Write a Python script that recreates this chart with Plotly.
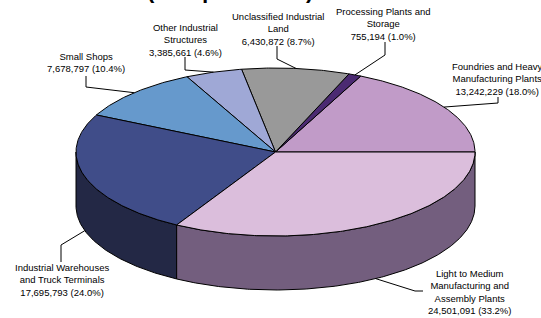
import numpy as np
import plotly.graph_objects as go

# ---------------- data ----------------
categories = [
    "Foundries and Heavy<br>Manufacturing Plants",
    "Processing Plants and<br>Storage",
    "Unclassified Industrial<br>Land",
    "Other Industrial<br>Structures",
    "Small Shops",
    "Industrial Warehouses<br>and Truck Terminals",
    "Light to Medium<br>Manufacturing and<br>Assembly Plants",
]
values = [13242229, 755194, 6430872, 3385661, 7678797, 17695793, 24501091]
title_text = "(In Square Feet)"

# ---------------- styles / layout ----------------
top_colors = ["#C19BC8", "#4B2A72", "#999999", "#9FA8D6", "#6699CC", "#404D89", "#DBBEDC"]
side_colors = ["#7F6785", "#2E1A47", "#666666", "#6A7090", "#446688", "#232845", "#735E7E"]

CX, CY, RX, RY, DEPTH = 275.5, 152.0, 199.5, 84.0, 54.0

# label block centres (x, y) in pixel-like coordinates
label_pos = [(497, 78.5), (383, 23.5), (278, 28.5), (185, 40), (86, 62.5), (62, 280), (469, 291.5)]
# leader: (end x, end y, elbow x, elbow y, anchor on side?)
leaders = [
    (498, 97, 498, 103, False),
    (385, 42, 385, 55, False),
    (277, 46, 277, 59, False),
    (185, 57, 185, 70, False),
    (86, 76, 86, 87, False),
    (61, 262, 61, 245, True),
    (423, 291, 415, 291, True),
]

FONT = "Liberation Sans, Arial, sans-serif"


def ell(theta_deg, drop=0.0):
    t = np.radians(theta_deg)
    return CX + RX * np.cos(t), CY - RY * np.sin(t) + drop


total = float(sum(values))
fracs = [v / total for v in values]
bounds = np.concatenate([[0.0], np.cumsum(fracs) * 360.0])

fig = go.Figure()

# side faces (front half only)
for i in range(len(values)):
    t1, t2 = max(bounds[i], 180.0), min(bounds[i + 1], 360.0)
    if t2 <= t1:
        continue
    n = max(3, int((t2 - t1) * 2))
    th = np.linspace(t1, t2, n)
    xt, yt = ell(th)
    xb, yb = ell(th[::-1], DEPTH)
    xs = np.concatenate([xt, xb, xt[:1]])
    ys = np.concatenate([yt, yb, yt[:1]])
    fig.add_trace(go.Scatter(x=xs, y=ys, mode="lines", fill="toself",
                             fillcolor=side_colors[i],
                             line=dict(color="#000000", width=1),
                             hoverinfo="skip", showlegend=False))

# top faces
for i in range(len(values)):
    t1, t2 = bounds[i], bounds[i + 1]
    n = max(3, int((t2 - t1) * 2))
    th = np.linspace(t1, t2, n)
    xa, ya = ell(th)
    xs = np.concatenate([[CX], xa, [CX]])
    ys = np.concatenate([[CY], ya, [CY]])
    fig.add_trace(go.Scatter(x=xs, y=ys, mode="lines", fill="toself",
                             fillcolor=top_colors[i],
                             line=dict(color="#000000", width=1),
                             hoverinfo="skip", showlegend=False))

# leader lines and labels
annotations = []
for i in range(len(values)):
    mid = (bounds[i] + bounds[i + 1]) / 2.0
    ex, ey, bx, by, side = leaders[i]
    ax, ay = ell(mid, DEPTH if side else 0.0)
    fig.add_trace(go.Scatter(x=[ex, bx, ax], y=[ey, by, ay], mode="lines",
                             line=dict(color="#000000", width=1),
                             hoverinfo="skip", showlegend=False))
    txt = f"{categories[i]}<br>{values[i]:,} ({100 * values[i] / total:.1f}%)"
    lx, ly = label_pos[i]
    annotations.append(dict(x=lx, y=ly, xref="x", yref="y", text=txt, showarrow=False,
                            xanchor="center", yanchor="middle", align="center",
                            font=dict(family=FONT, size=9.5, color="#000000")))

# title (mostly cut off at top in the reference)
annotations.append(dict(x=230 / 541, y=1 + 9 / 318, xref="paper", yref="paper",
                        text="<b>" + title_text + "</b>", showarrow=False,
                        xanchor="center", yanchor="middle",
                        font=dict(family=FONT, size=22, color="#000000")))

fig.update_layout(
    width=541, height=318, autosize=False,
    margin=dict(l=0, r=0, t=0, b=0),
    paper_bgcolor="#FFFFFF", plot_bgcolor="#FFFFFF",
    xaxis=dict(range=[0, 541], visible=False, fixedrange=True),
    yaxis=dict(range=[318, 0], visible=False, fixedrange=True),
    annotations=annotations,
    showlegend=False,
)

fig.write_html(
    "out.html",
    config={"displayModeBar": False},
    post_script="document.body.style.margin='0';document.body.style.overflow='hidden';",
)
